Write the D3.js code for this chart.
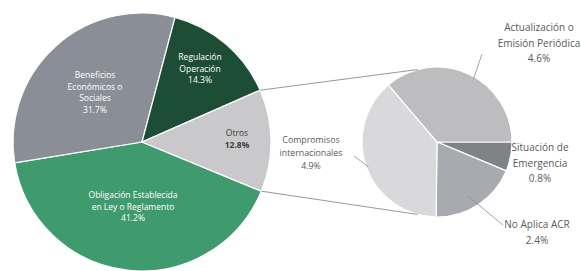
<!DOCTYPE html>
<html><head><meta charset="utf-8">
<script src="https://cdn.jsdelivr.net/npm/d3@7"></script>
<style>body{margin:0;background:#fff}svg{display:block;font-family:"Open Sans",sans-serif}</style>
</head><body><svg id="c" width="581" height="271"></svg>
<script>
// Main pie (order clockwise from Obligación)
const mainCategories = ["Obligación Establecida en Ley o Reglamento", "Beneficios Económicos o Sociales", "Regulación Operación", "Otros"];
const mainLabelLines = [["Obligación Establecida", "en Ley o Reglamento", "41.2%"], ["Beneficios", "Económicos o", "Sociales", "31.7%"], ["Regulación", "Operación", "14.3%"], ["Otros", "12.8%"]];
const mainValues = [41.2, 31.7, 14.3, 12.8];
const mainColors = ["#3f9a6e", "#8a8e96", "#1e4d36", "#c9c9cc"];

// Secondary pie (breakdown of Otros), clockwise from east
const subCategories = ["Situación de Emergencia", "No Aplica ACR", "Compromisos internacionales", "Actualización o Emisión Periódica"];
const subLabelLines = [["Situación de", "Emergencia", "0.8%"], ["No Aplica ACR", "2.4%"], ["Compromisos", "internacionales", "4.9%"], ["Actualización o", "Emisión Periódica", "4.6%"]];
const subValues = [0.8, 2.4, 4.9, 4.6];
const subColors = ["#808285", "#a7aaae", "#d9d9db", "#bdbdbf"];

const svg = d3.select("#c");
const deg = Math.PI / 180;

// main pie
const mc = [142, 142], mr = 129;
const mainStart = 112.4 * deg;
const mainPie = d3.pie().sort(null).value(d => d).startAngle(mainStart).endAngle(mainStart + 2 * Math.PI);
const mainArcs = mainPie(mainValues);
const mArc = d3.arc().innerRadius(0).outerRadius(mr);
const gm = svg.append("g").attr("transform", `translate(${mc})`);
gm.selectAll("path").data(mainArcs).join("path")
  .attr("d", mArc).attr("fill", (d, i) => mainColors[i])
  .attr("stroke", "#fff").attr("stroke-width", 1.2);

const mainLabelPos = [[-9, 56], [-47, -64], [58, -82], [95, -6]];
const mainTextColor = ["#fff", "#fff", "#fff", "#404040"];
mainLabelLines.forEach((lines, i) => {
  const t = gm.append("text").attr("text-anchor", "middle")
    .attr("font-size", 8.5).attr("fill", mainTextColor[i]);
  lines.forEach((l, j) => t.append("tspan").attr("x", mainLabelPos[i][0])
    .attr("y", mainLabelPos[i][1] + j * 11.5).attr("font-weight", (i === 3 && j === 1) ? "bold" : null).text(l));
});

// secondary pie
const sc = [437, 142], sr = 75;
const subPie = d3.pie().sort(null).value(d => d).startAngle(90 * deg).endAngle(450 * deg);
const subArcs = subPie(subValues);
const sArc = d3.arc().innerRadius(0).outerRadius(sr);
const gs = svg.append("g").attr("transform", `translate(${sc})`);
gs.selectAll("path").data(subArcs).join("path")
  .attr("d", sArc).attr("fill", (d, i) => subColors[i])
  .attr("stroke", "#fff").attr("stroke-width", 1.2);

// connector lines between Otros slice and secondary pie
const otros = mainArcs[3];
const pt = (c, r, a) => [c[0] + r * Math.sin(a), c[1] - r * Math.cos(a)];
const p1 = pt(mc, mr, otros.startAngle), p2 = pt(mc, mr, otros.endAngle);
const q1 = pt(sc, sr, -15 * deg), q2 = pt(sc, sr, 195 * deg);
svg.append("line").attr("x1", p1[0]).attr("y1", p1[1]).attr("x2", q1[0]).attr("y2", q1[1]).attr("stroke", "#8c8c8c").attr("stroke-width", 0.9);
svg.append("line").attr("x1", p2[0]).attr("y1", p2[1]).attr("x2", q2[0]).attr("y2", q2[1]).attr("stroke", "#8c8c8c").attr("stroke-width", 0.9);

// secondary labels
const subLabelPos = [[540, 151], [537, 228], [311, 143], [539, 31]];
const subFont = [10, 10, 8.8, 10];
const subLineH = [15.5, 16, 13, 15.5];
subLabelLines.forEach((lines, i) => {
  const t = svg.append("text").attr("text-anchor", "middle").attr("font-size", subFont[i]).attr("fill", "#595959");
  lines.forEach((l, j) => t.append("tspan").attr("x", subLabelPos[i][0]).attr("y", subLabelPos[i][1] + j * subLineH[i]).text(l));
});
// leader lines
const leaders = [[[482, 54], pt(sc, sr - 2, 30 * deg)], [[503, 225], pt(sc, sr - 12, 150 * deg)], [[354, 156], pt(sc, sr - 2, 250 * deg)]];
leaders.forEach(([a, b]) => svg.append("line").attr("x1", a[0]).attr("y1", a[1]).attr("x2", b[0]).attr("y2", b[1]).attr("stroke", "#8c8c8c").attr("stroke-width", 0.8));
</script></body></html>
